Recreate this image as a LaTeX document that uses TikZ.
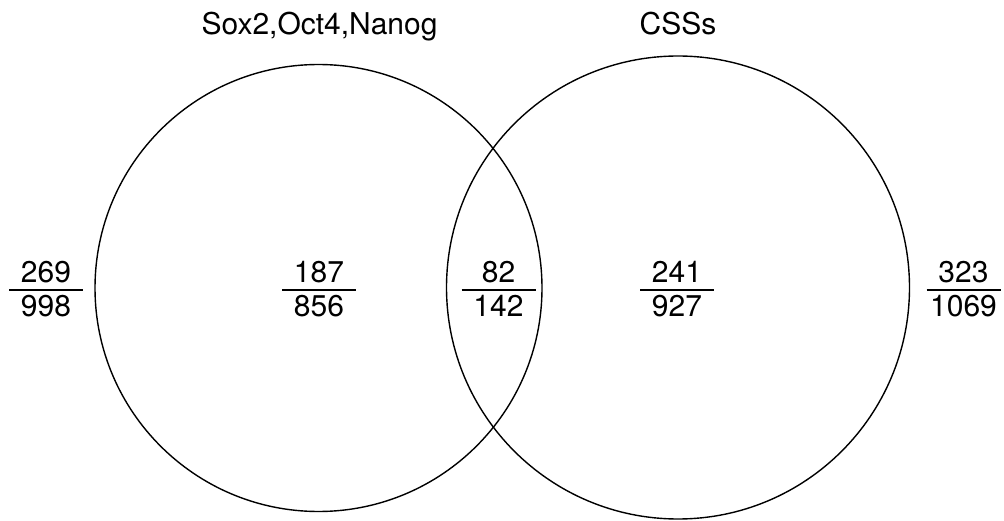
\documentclass[tikz,border=0pt]{standalone}
\usepackage{fontspec}
\setmainfont{TeX Gyre Heros}
\newcommand\vennfrac[4]{%
  \node[txt] (#1n) at (#2,237) {#3};
  \node[txt] (#1d) at (#2,204) {#4};
  \coordinate (#1a) at ({#2-37},230);
  \coordinate (#1b) at ({#2+37},230);
  \draw[fracline] (#1a) -- (#1b);
}
\begin{document}
\begin{tikzpicture}[x=1pt,y=1pt,
  txt/.style={inner sep=0pt, anchor=base, font=\fontsize{30}{36}\selectfont},
  circ/.style={draw, circle, line width=1.4pt, inner sep=0pt},
  fracline/.style={line width=1.2pt}]
\useasboundingbox (0,0) rectangle (1004,520);
\node[circ, minimum size=447pt] (A) at (318.5,232) {};
\node[circ, minimum size=463pt] (B) at (678,232.5) {};
\node[txt] (tA) at (319.5,485) {Sox2,Oct4,Nanog};
\node[txt] (tB) at (678,485) {CSSs};
\vennfrac{f1}{46}{269}{998}
\vennfrac{f2}{319}{187}{856}
\vennfrac{f3}{498.5}{82}{142}
\vennfrac{f4}{677}{241}{927}
\vennfrac{f5}{963.5}{323}{1069}
\end{tikzpicture}
\end{document}
